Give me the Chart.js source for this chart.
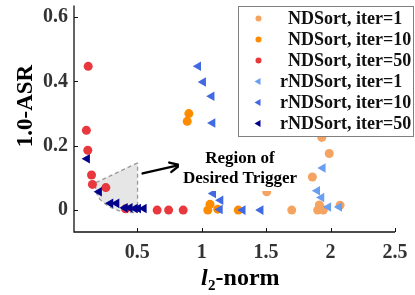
<!DOCTYPE html>
<html>
<head>
<meta charset="utf-8">
<script src="https://cdn.jsdelivr.net/npm/chart.js@4.4.1/dist/chart.umd.min.js"></script>
<style>
  html, body { margin: 0; padding: 0; background: #fff; }
</style>
</head>
<body>
<canvas id="c" width="415" height="295"></canvas>
<script>
// values
const legendLabels = ['NDSort, iter=1', 'NDSort, iter=10', 'NDSort, iter=50', 'rNDSort, iter=1', 'rNDSort, iter=10', 'rNDSort, iter=50'];

const nd1X = [1.505, 1.932, 1.99, 1.859, 1.699, 1.913, 1.90, 1.944, 2.074, 1.925];
const nd1Y = [0.057, 0.226, 0.176, 0.103, 0.0, 0.016, 0.0, 0.0, 0.015, 0.005];
const nd10X = [0.901, 0.888, 1.065, 1.048, 1.125, 1.284];
const nd10Y = [0.30, 0.276, 0.018, 0.0, 0.003, 0.0];
const nd50X = [0.12, 0.106, 0.117, 0.146, 0.153, 0.257, 0.655, 0.744, 0.857, 0.41];
const nd50Y = [0.447, 0.248, 0.186, 0.109, 0.08, 0.07, 0.0, 0.0, 0.0, 0.004];

const rnd1X = [1.94, 1.897, 1.93, 1.983, 2.068];
const rnd1Y = [0.131, 0.06, 0.039, 0.01, 0.01];
const rnd10X = [0.974, 1.012, 1.078, 1.085, 1.09, 1.147, 1.142, 1.319, 1.458];
const rnd10Y = [0.447, 0.398, 0.354, 0.271, 0.052, 0.031, 0.002, 0.0, 0.0];
const rnd50X = [0.112, 0.205, 0.293, 0.34, 0.405, 0.443, 0.482, 0.508, 0.552];
const rnd50Y = [0.16, 0.057, 0.021, 0.021, 0.007, 0.007, 0.005, 0.005, 0.005];

// shaded "desired trigger" region outline
const regionX = [0.503, 0.172, 0.185, 0.21, 0.262, 0.311, 0.366, 0.428, 0.495, 0.503, 0.503];
const regionY = [0.147, 0.084, 0.052, 0.034, 0.016, 0.005, -0.003, -0.007, -0.008, -0.005, 0.147];

const xTicks = [0.5, 1, 1.5, 2, 2.5];
const xTickLabels = ['0.5', '1', '1.5', '2', '2.5'];
const yTicks = [0, 0.2, 0.4, 0.6];
const yTickLabels = ['0', '0.2', '0.4', '0.6'];

const colors = ['#f4a460', '#ff8c00', '#e8383d', '#6a9ff0', '#4169e1', '#00008b'];
const serif = '"Liberation Serif", "Times New Roman", serif';

const pts = (xs, ys) => xs.map((v, i) => ({ x: v, y: ys[i] }));
const series = [[nd1X, nd1Y], [nd10X, nd10Y], [nd50X, nd50Y], [rnd1X, rnd1Y], [rnd10X, rnd10Y], [rnd50X, rnd50Y]];

const datasets = series.map(([xs, ys], i) => {
  const tri = i >= 3;
  return {
    label: legendLabels[i],
    data: pts(xs, ys),
    backgroundColor: colors[i],
    borderColor: colors[i],
    borderWidth: 0,
    pointStyle: tri ? 'triangle' : 'circle',
    rotation: tri ? -90 : 0,
    pointRadius: tri ? 5.5 : 4.5,
    order: 5 - i
  };
});

datasets.push({
  type: 'line',
  label: 'region',
  data: pts(regionX, regionY),
  borderColor: '#9a9a9a',
  borderDash: [4, 3],
  borderWidth: 1.3,
  backgroundColor: 'rgba(205,205,205,0.5)',
  fill: 'shape',
  pointRadius: 0,
  tension: 0,
  order: 10
});

function drawMarker(ctx, style, x, y, r) {
  ctx.beginPath();
  if (style === 'circle') {
    ctx.arc(x, y, r, 0, Math.PI * 2);
  } else {
    ctx.moveTo(x - r, y);
    ctx.lineTo(x + r * 0.5, y - r * 0.87);
    ctx.lineTo(x + r * 0.5, y + r * 0.87);
    ctx.closePath();
  }
  ctx.fill();
}

const decor = {
  id: 'decor',
  afterDatasetsDraw(chart) {
    const { ctx, scales: { x, y } } = chart;
    ctx.save();

    // arrow toward the region
    const x0 = x.getPixelForValue(0.542), y0 = y.getPixelForValue(0.114);
    const x1 = x.getPixelForValue(0.832), y1 = y.getPixelForValue(0.14);
    const ang = Math.atan2(y1 - y0, x1 - x0);
    ctx.strokeStyle = '#000';
    ctx.lineWidth = 2.4;
    ctx.lineCap = 'round';
    ctx.beginPath(); ctx.moveTo(x0, y0); ctx.lineTo(x1 - 1, y1); ctx.stroke();
    ctx.beginPath();
    ctx.moveTo(x1 - 11 * Math.cos(ang - 0.45), y1 - 11 * Math.sin(ang - 0.45));
    ctx.lineTo(x1, y1);
    ctx.lineTo(x1 - 11 * Math.cos(ang + 0.45), y1 - 11 * Math.sin(ang + 0.45));
    ctx.stroke();

    // annotation text with white box
    ctx.font = 'bold 17px ' + serif;
    const tx = 240, lines = ['Region of', 'Desired Trigger'], base = [163, 183];
    const w = Math.max(...lines.map(t => ctx.measureText(t).width));
    ctx.fillStyle = '#fff';
    ctx.fillRect(tx - w / 2 - 4, 148, w + 8, 43);
    ctx.fillStyle = '#000';
    ctx.textAlign = 'center';
    ctx.textBaseline = 'alphabetic';
    lines.forEach((t, i) => ctx.fillText(t, tx, base[i]));

    // legend
    const L = 238.5, T = 6.5, R = 413.5, B = 136.5;
    ctx.fillStyle = '#fff';
    ctx.fillRect(L, T, R - L, B - T);
    ctx.strokeStyle = '#808080';
    ctx.lineWidth = 1;
    ctx.strokeRect(L, T, R - L, B - T);
    ctx.font = 'bold 18px ' + serif;
    ctx.textAlign = 'left';
    ctx.textBaseline = 'middle';
    legendLabels.forEach((t, i) => {
      const ry = 18.5 + i * 21;
      ctx.fillStyle = colors[i];
      drawMarker(ctx, i >= 3 ? 'tri' : 'circle', 258.5, ry, i >= 3 ? 4 : 3);
      ctx.fillStyle = '#111';
      const off = t.startsWith('r') ? ctx.measureText('r').width : 0;
      ctx.fillText(t, 288 - off, ry + 1);
    });
    ctx.restore();
  },
  afterDraw(chart) {
    const { ctx, chartArea: a, scales: { x, y } } = chart;
    ctx.save();
    ctx.strokeStyle = '#111';
    ctx.lineWidth = 1.3;
    ctx.beginPath();
    ctx.moveTo(a.left, a.top); ctx.lineTo(a.left, a.bottom); ctx.lineTo(a.right, a.bottom);
    ctx.stroke();
    ctx.lineWidth = 1;
    ctx.beginPath();
    yTicks.forEach(v => { const p = Math.round(y.getPixelForValue(v)) + 0.5; ctx.moveTo(a.left, p); ctx.lineTo(a.left + 4, p); });
    xTicks.forEach(v => { const p = Math.round(x.getPixelForValue(v)) + 0.5; ctx.moveTo(p, a.bottom); ctx.lineTo(p, a.bottom - 4); });
    ctx.stroke();

    // y title
    ctx.fillStyle = '#000';
    ctx.font = 'bold 23px ' + serif;
    ctx.textAlign = 'center';
    ctx.textBaseline = 'middle';
    ctx.translate(26, 106);
    ctx.rotate(-Math.PI / 2);
    ctx.fillText('1.0-ASR', 0, 0);
    ctx.setTransform(1, 0, 0, 1, 0, 0);

    // x title: italic l, subscript 2, -norm
    ctx.textAlign = 'left';
    ctx.textBaseline = 'alphabetic';
    const f1 = 'italic bold 24px ' + serif, f2 = 'bold 15px ' + serif, f3 = 'bold 24px ' + serif;
    ctx.font = f1; const w1 = ctx.measureText('l').width;
    ctx.font = f2; const w2 = ctx.measureText('2').width;
    ctx.font = f3; const w3 = ctx.measureText('-norm').width;
    let sx = 240 - (w1 + w2 + w3) / 2;
    ctx.font = f1; ctx.fillText('l', sx, 285); sx += w1 + 0.5;
    ctx.font = f2; ctx.fillText('2', sx, 290); sx += w2;
    ctx.font = f3; ctx.fillText('-norm', sx, 285);
    ctx.restore();
  }
};

new Chart(document.getElementById('c'), {
  type: 'scatter',
  data: { datasets },
  options: {
    responsive: false,
    animation: false,
    events: [],
    layout: { padding: { top: 5, right: 20, left: 0, bottom: 0 } },
    plugins: { legend: { display: false }, tooltip: { enabled: false } },
    scales: {
      x: {
        type: 'linear', min: 0.01, max: 2.5,
        grid: { display: false, drawTicks: false },
        border: { display: false },
        afterBuildTicks: s => { s.ticks = xTicks.map(v => ({ value: v })); },
        afterFit: s => { s.height = 63; s.paddingLeft = 0; s.paddingRight = 0; },
        ticks: {
          padding: 9, color: '#333', maxRotation: 0, autoSkip: false,
          font: { family: serif, size: 20, weight: 'bold' },
          callback: (v, i) => xTickLabels[i]
        }
      },
      y: {
        type: 'linear', min: -0.068, max: 0.636,
        grid: { display: false, drawTicks: false },
        border: { display: false },
        afterBuildTicks: s => { s.ticks = yTicks.map(v => ({ value: v })); },
        afterFit: s => { s.width = 74; s.paddingTop = 0; s.paddingBottom = 0; },
        ticks: {
          padding: 6, color: '#333', autoSkip: false,
          font: { family: serif, size: 20, weight: 'bold' },
          callback: (v, i) => yTickLabels[i]
        }
      }
    }
  },
  plugins: [decor]
});
</script>
</body>
</html>
